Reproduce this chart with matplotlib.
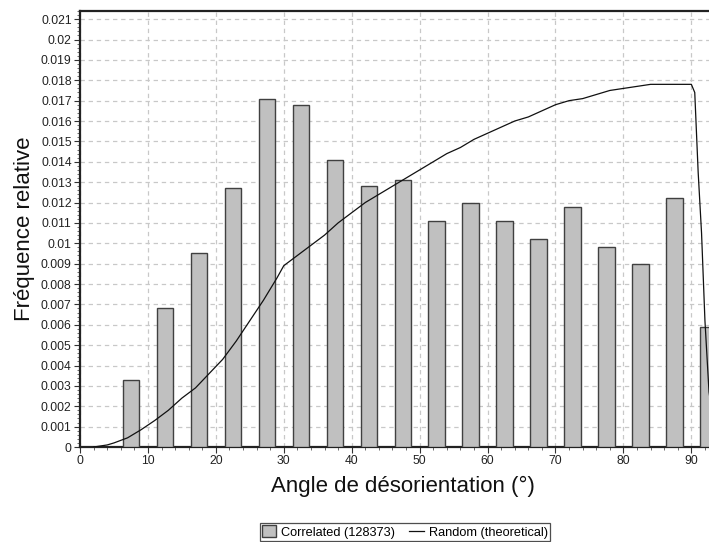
import matplotlib
matplotlib.use("Agg")
import matplotlib.pyplot as plt
from matplotlib.ticker import MultipleLocator, FuncFormatter
from matplotlib.patches import Patch
from matplotlib.lines import Line2D

plt.rcParams['font.family'] = ['Liberation Sans', 'DejaVu Sans']

# Data
bar_centers = [7.5, 12.5, 17.5, 22.5, 27.5, 32.5, 37.5, 42.5, 47.5, 52.5,
               57.5, 62.5, 67.5, 72.5, 77.5, 82.5, 87.5, 92.5]
bar_values = [0.0033, 0.0068, 0.0095, 0.0127, 0.0171, 0.0168, 0.0141, 0.0128,
              0.0131, 0.0111, 0.0120, 0.0111, 0.0102, 0.0118, 0.0098, 0.0090,
              0.0122, 0.0059]
curve_x = [2, 4, 5, 7, 9, 11, 13, 15, 17, 19, 21, 23, 25, 27, 29, 30, 32, 34,
           36, 38, 40, 42, 44, 46, 48, 50, 52, 54, 56, 58, 60, 62, 64, 66, 68,
           70, 72, 74, 76, 78, 80, 82, 84, 86, 88, 90, 90.5, 91, 91.5, 92,
           92.6, 93.8]
curve_y = [0.0, 0.0001, 0.0002, 0.00045, 0.00085, 0.0013, 0.0018, 0.0024,
           0.0029, 0.0036, 0.0043, 0.0052, 0.0062, 0.0072, 0.0083, 0.0089,
           0.0094, 0.0099, 0.0104, 0.0110, 0.0115, 0.0120, 0.0124, 0.0128,
           0.0132, 0.0136, 0.0140, 0.0144, 0.0147, 0.0151, 0.0154, 0.0157,
           0.0160, 0.0162, 0.0165, 0.0168, 0.0170, 0.0171, 0.0173, 0.0175,
           0.0176, 0.0177, 0.0178, 0.0178, 0.0178, 0.0178, 0.0174, 0.0135,
           0.0105, 0.0062, 0.0027, 0.0]
bar_label = "Correlated (128373)"
line_label = "Random (theoretical)"
xlabel = "Angle de désorientation (°)"
ylabel = "Fréquence relative"

W, H = 709, 542
fig = plt.figure(figsize=(W / 100, H / 100), dpi=100)
ax = fig.add_axes([80 / W, (H - 447) / H, (726 - 80) / W, (447 - 11) / H])

ax.bar(bar_centers, bar_values, width=2.4, color='#c0c0c0',
       edgecolor='#404040', linewidth=1.0, zorder=3)
ax.plot(curve_x, curve_y, color='#111111', linewidth=0.9, zorder=4)

ax.set_xlim(0, 95.1)
ax.set_ylim(0, 0.0214)
ax.xaxis.set_major_locator(MultipleLocator(10))
ax.xaxis.set_minor_locator(MultipleLocator(2))
ax.yaxis.set_major_locator(MultipleLocator(0.001))
ax.yaxis.set_minor_locator(MultipleLocator(0.0002))
ax.yaxis.set_major_formatter(FuncFormatter(lambda v, p: '{:g}'.format(round(v, 4))))
ax.xaxis.set_major_formatter(FuncFormatter(lambda v, p: '{:g}'.format(round(v, 4))))

ax.grid(True, which='major', color='#c8c8c8', linestyle=(0, (3.5, 3)),
        linewidth=0.9, zorder=0)
ax.set_axisbelow(True)

for s in ['left', 'bottom', 'top']:
    ax.spines[s].set_color('#222222')
    ax.spines[s].set_linewidth(1.6)
ax.spines['right'].set_visible(False)

ax.tick_params(axis='both', which='major', direction='out', length=4,
               width=0.8, labelsize=8.7, colors='#333333', labelcolor='#222222', pad=2)
ax.tick_params(axis='both', which='minor', direction='out', length=2,
               width=0.6, colors='#555555')

ax.set_xlabel(xlabel, fontsize=16, color='#111111', labelpad=6)
ax.set_ylabel(ylabel, fontsize=16, color='#111111', labelpad=4)

handles = [Patch(facecolor='#c0c0c0', edgecolor='#404040', linewidth=1.0),
           Line2D([0], [0], color='#111111', linewidth=0.9)]
leg = fig.legend(handles, [bar_label, line_label], loc='center',
                 bbox_to_anchor=(405 / W, (H - 532) / H), ncol=2,
                 fontsize=9.2, frameon=True, fancybox=False, edgecolor='#222222',
                 handlelength=1.1, handleheight=1.0, handletextpad=0.4,
                 columnspacing=1.1, borderpad=0.2, borderaxespad=0)
leg.get_frame().set_linewidth(0.9)

fig.savefig("out.png", dpi=100)
